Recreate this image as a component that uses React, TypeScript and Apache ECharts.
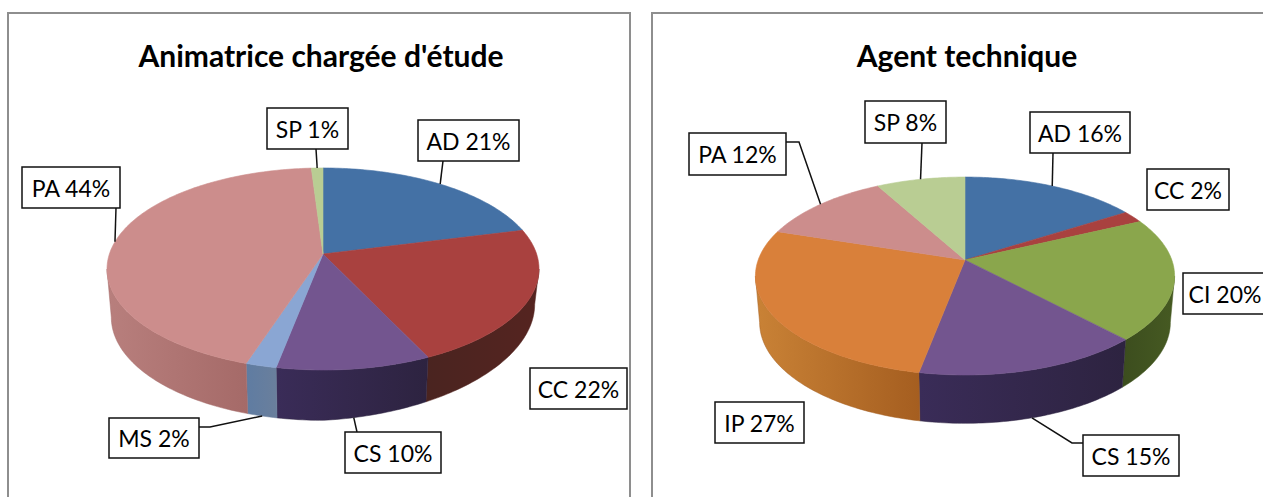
import React, { useEffect, useRef } from "react";
import * as echarts from "echarts";

// ---- data ----
const leftTitle = "Animatrice chargée d'étude";
const leftCategories = ["AD", "CC", "CS", "MS", "PA", "SP"];
const leftValues = [21, 22, 10, 2, 44, 1];

const rightTitle = "Agent technique";
const rightCategories = ["AD", "CC", "CI", "CS", "IP", "PA", "SP"];
const rightValues = [16, 2, 20, 15, 27, 12, 8];

// ---- styles ----
const topColors: Record<string, string> = {
  AD: "#4471a5", CC: "#a9413f", CI: "#8aa64c", CS: "#73558f",
  MS: "#8aa6d3", IP: "#d9803a", PA: "#cc8d8c", SP: "#b9cd93",
};
const wallColors: Record<string, [string, string]> = {
  AD: ["#2d4d72", "#2d4d72"], CC: ["#4a2420", "#552420"], CI: ["#3c4d1e", "#465a22"],
  CS: ["#3a2c58", "#2d2340"], MS: ["#5f7ca2", "#6a7f9c"], IP: ["#c98236", "#a55e20"],
  PA: ["#b87f7d", "#a56a68"], SP: ["#7f8f63", "#7f8f63"],
};

// ---- layout ----
type Pie = { cx: number; ay: number; a: number; b: number; k: number; dy: number; wallA: number; wallB: number; tilt: number };
const leftPie: Pie = { cx: 323, ay: 254, a: 213.6, b: 98.8, k: 0.1485, dy: 48, wallA: 0.98, wallB: 1.02, tilt: 13 };
const rightPie: Pie = { cx: 965, ay: 260, a: 206.8, b: 96.4, k: 0.162, dy: 46, wallA: 0.98, wallB: 1.02, tilt: 0 };

// label box [x, y, w, h], then the leader's bend points (from box to slice), null = no leader
type Lab = { box: number[]; bend: number[][] | null; wall?: boolean };
const leftLabels: Lab[] = [
  { box: [418, 120, 101, 41], bend: [[443, 161]] },
  { box: [530, 368, 97, 41], bend: null },
  { box: [345, 432, 96, 41], bend: [[357, 432]], wall: true },
  { box: [109, 418, 90, 40], bend: [[199, 427], [210, 427]], wall: true },
  { box: [22, 167, 98, 41], bend: [[116, 208]] },
  { box: [267, 108, 81, 41], bend: [[316, 149]] },
];
const rightLabels: Lab[] = [
  { box: [1030, 112, 100, 41], bend: [[1053, 153]] },
  { box: [1147, 169, 82, 41], bend: null },
  { box: [1183, 273, 84, 41], bend: null },
  { box: [1083, 435, 96, 41], bend: [[1083, 443], [1072, 443]], wall: true },
  { box: [715, 402, 89, 41], bend: null },
  { box: [689, 133, 97, 42], bend: [[786, 142], [799, 142]] },
  { box: [865, 101, 81, 42], bend: [[922, 143]] },
];

const FONT = "Lato";
const RAD = Math.PI / 180;

function project(p: Pie, deg: number, wall: boolean): number[] {
  const u = Math.sin(deg * RAD);
  const v = -Math.cos(deg * RAD);
  const w = 1 - p.k * v;
  const a = wall ? p.a * p.wallA : p.a;
  const b = wall ? p.b * p.wallB : p.b;
  const lift = wall ? p.tilt * Math.max(u, 0) : 0;
  return [p.cx + (a * u) / w, p.ay + (wall ? p.dy : 0) - lift + (b * v) / w];
}

function spans(values: number[]): number[][] {
  const total = values.reduce((s, x) => s + x, 0);
  let acc = 0;
  return values.map((x) => {
    const s = (acc / total) * 360;
    acc += x;
    return [s, (acc / total) * 360];
  });
}

function arc(p: Pie, s: number, e: number, wall: boolean): number[][] {
  const out: number[][] = [];
  const n = Math.max(2, Math.ceil(e - s));
  for (let i = 0; i <= n; i++) out.push(project(p, s + ((e - s) * i) / n, wall));
  return out;
}

function pieSeries(p: Pie, cats: string[], values: number[], labels: Lab[]): any[] {
  const sp = spans(values);
  const data = values.map((v, i) => ({ name: cats[i], value: v }));
  const lo = Math.acos(-p.k) / RAD;
  const hi = 360 - lo;
  return [
    {
      type: "custom", coordinateSystem: "none", silent: true, z: 1, data,
      renderItem: (params: any) => {
        const i = params.dataIndex;
        const s = Math.max(sp[i][0], lo);
        const e = Math.min(sp[i][1], hi);
        if (e <= s) return { type: "group", children: [] };
        const top = arc(p, s, e, false);
        const bot = arc(p, s, e, true).reverse();
        const c = wallColors[cats[i]];
        return {
          type: "polygon",
          shape: { points: top.concat(bot) },
          style: {
            fill: new echarts.graphic.LinearGradient(0, 0, 1, 0, [
              { offset: 0, color: c[0] },
              { offset: 1, color: c[1] },
            ]),
            stroke: c[1], lineWidth: 0.5,
          },
        };
      },
    },
    {
      type: "custom", coordinateSystem: "none", silent: true, z: 2, data,
      renderItem: (params: any) => {
        const i = params.dataIndex;
        const color = topColors[cats[i]];
        return {
          type: "polygon",
          shape: { points: [[p.cx, p.ay]].concat(arc(p, sp[i][0], sp[i][1], false)) },
          style: { fill: color, stroke: color, lineWidth: 0.6 },
        };
      },
    },
    {
      type: "custom", coordinateSystem: "none", silent: true, z: 3, data,
      renderItem: (params: any) => {
        const i = params.dataIndex;
        const lab = labels[i];
        const [x, y, w, h] = lab.box;
        const children: any[] = [];
        if (lab.bend) {
          const mid = (sp[i][0] + sp[i][1]) / 2;
          children.push({
            type: "polyline",
            shape: { points: lab.bend.concat([project(p, mid, !!lab.wall)]) },
            style: { fill: "none", stroke: "#111", lineWidth: 1.5 },
          });
        }
        children.push({
          type: "rect",
          shape: { x, y, width: w, height: h },
          style: { fill: "#fff", stroke: "#111", lineWidth: 1.5 },
        });
        children.push({
          type: "text",
          style: {
            x: x + w / 2, y: y + h / 2,
            text: `${cats[i]} ${values[i]}%`,
            fill: "#000", align: "center", verticalAlign: "middle",
            font: `23px ${FONT}`,
          },
        });
        return { type: "group", children };
      },
    },
  ];
}

export default function App() {
  const ref = useRef<HTMLDivElement>(null);
  useEffect(() => {
    document.body.style.margin = "0";
    document.body.style.overflow = "hidden";
    const chart = echarts.init(ref.current!, null, { renderer: "svg" });
    chart.setOption({
      animation: false,
      backgroundColor: "#fff",
      title: [
        {
          text: leftTitle, left: 316, top: 35, textAlign: "center",
          textStyle: { fontFamily: FONT, fontWeight: "bold", fontSize: 30, color: "#000" },
        },
        {
          text: rightTitle, left: 962, top: 35, textAlign: "center",
          textStyle: { fontFamily: FONT, fontWeight: "bold", fontSize: 30, color: "#000" },
        },
      ],
      graphic: [
        { type: "rect", z: 0, silent: true, shape: { x: 8, y: 13, width: 622, height: 520 }, style: { fill: "none", stroke: "#8e8e8e", lineWidth: 2 } },
        { type: "rect", z: 0, silent: true, shape: { x: 652, y: 13, width: 700, height: 520 }, style: { fill: "none", stroke: "#8e8e8e", lineWidth: 2 } },
      ],
      series: [
        ...pieSeries(leftPie, leftCategories, leftValues, leftLabels),
        ...pieSeries(rightPie, rightCategories, rightValues, rightLabels),
      ],
    });
    return () => chart.dispose();
  }, []);
  return <div ref={ref} style={{ width: 1263, height: 497 }} />;
}
